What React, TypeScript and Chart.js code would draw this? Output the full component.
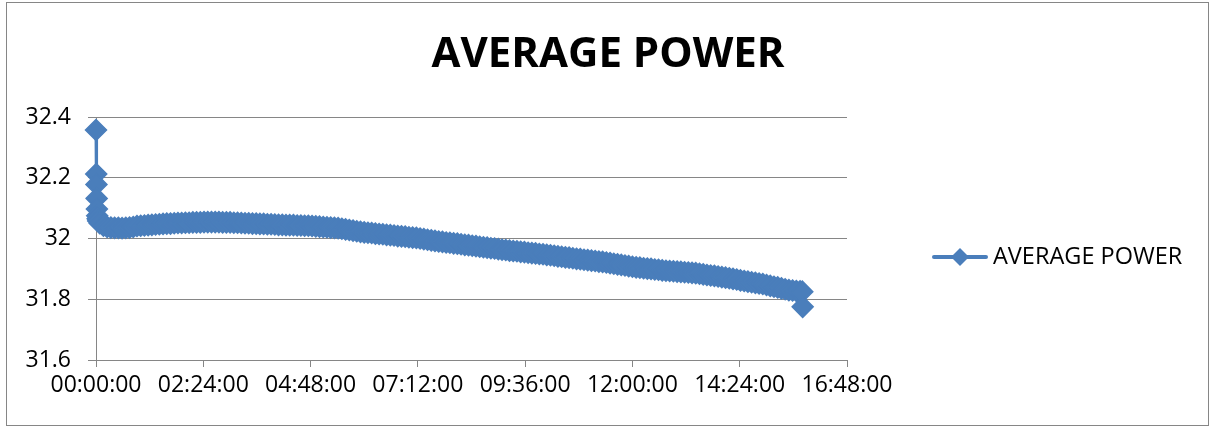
import React, { useEffect, useRef } from "react";
import { Chart, registerables } from "chart.js";

Chart.register(...registerables);

const TITLE = "AVERAGE POWER";
const SERIES_NAME = "AVERAGE POWER";
const SERIES_COLOR = "#4A7EBB";

// elapsed time in minutes
const TIME_MINUTES = [
  0, 0.3, 0.6, 0.9, 1.2, 1.6, 2.2, 3, 5,
  10, 15, 20, 25, 30, 35, 40, 45, 50, 55,
  60, 65, 70, 75, 80, 85, 90, 95, 100, 105,
  110, 115, 120, 125, 130, 135, 140, 145, 150, 155,
  160, 165, 170, 175, 180, 185, 190, 195, 200, 205,
  210, 215, 220, 225, 230, 235, 240, 245, 250, 255,
  260, 265, 270, 275, 280, 285, 290, 295, 300, 305,
  310, 315, 320, 325, 330, 335, 340, 345, 350, 355,
  360, 365, 370, 375, 380, 385, 390, 395, 400, 405,
  410, 415, 420, 425, 430, 435, 440, 445, 450, 455,
  460, 465, 470, 475, 480, 485, 490, 495, 500, 505,
  510, 515, 520, 525, 530, 535, 540, 545, 550, 555,
  560, 565, 570, 575, 580, 585, 590, 595, 600, 605,
  610, 615, 620, 625, 630, 635, 640, 645, 650, 655,
  660, 665, 670, 675, 680, 685, 690, 695, 700, 705,
  710, 715, 720, 725, 730, 735, 740, 745, 750, 755,
  760, 765, 770, 775, 780, 785, 790, 795, 800, 805,
  810, 815, 820, 825, 830, 835, 840, 845, 850, 855,
  860, 865, 870, 875, 880, 885, 890, 895, 900, 905,
  910, 915, 920, 925, 930, 935, 940, 945,
  948, 948.5,
];

const AVERAGE_POWER = [
  32.357, 32.212, 32.178, 32.132, 32.097, 32.075, 32.065, 32.058, 32.05,
  32.042, 32.038, 32.036, 32.035, 32.035, 32.034, 32.035, 32.036, 32.038, 32.041,
  32.042, 32.043, 32.044, 32.045, 32.046, 32.047, 32.048, 32.049, 32.049, 32.05,
  32.051, 32.051, 32.052, 32.052, 32.053, 32.053, 32.053, 32.054, 32.054, 32.054,
  32.054, 32.054, 32.053, 32.053, 32.053, 32.052, 32.052, 32.051, 32.05, 32.05,
  32.049, 32.049, 32.048, 32.048, 32.047, 32.047, 32.046, 32.045, 32.045, 32.044,
  32.044, 32.044, 32.043, 32.043, 32.042, 32.042, 32.041, 32.04, 32.039, 32.038,
  32.037, 32.036, 32.035, 32.034, 32.032, 32.03, 32.028, 32.026, 32.024, 32.022,
  32.02, 32.019, 32.018, 32.016, 32.015, 32.014, 32.012, 32.011, 32.01, 32.008,
  32.007, 32.006, 32.004, 32.003, 32.002, 32.0, 31.998, 31.996, 31.994, 31.992,
  31.99, 31.989, 31.987, 31.986, 31.984, 31.983, 31.981, 31.979, 31.978, 31.976,
  31.975, 31.973, 31.971, 31.97, 31.968, 31.967, 31.965, 31.963, 31.962, 31.96,
  31.959, 31.958, 31.956, 31.955, 31.953, 31.952, 31.951, 31.949, 31.948, 31.946,
  31.945, 31.943, 31.941, 31.94, 31.938, 31.937, 31.935, 31.933, 31.932, 31.93,
  31.929, 31.927, 31.926, 31.924, 31.923, 31.921, 31.919, 31.917, 31.915, 31.913,
  31.911, 31.909, 31.907, 31.905, 31.904, 31.902, 31.901, 31.9, 31.898, 31.897,
  31.895, 31.894, 31.893, 31.892, 31.891, 31.89, 31.889, 31.888, 31.887, 31.886,
  31.884, 31.882, 31.88, 31.878, 31.877, 31.875, 31.873, 31.871, 31.869, 31.867,
  31.865, 31.862, 31.86, 31.858, 31.856, 31.854, 31.852, 31.85, 31.847, 31.844,
  31.841, 31.839, 31.836, 31.833, 31.83, 31.829, 31.827, 31.826,
  31.825, 31.775,
];

const X_TICK_MINUTES = [0, 144, 288, 432, 576, 720, 864, 1008];
const X_TICK_LABELS = [
  "00:00:00", "02:24:00", "04:48:00", "07:12:00",
  "09:36:00", "12:00:00", "14:24:00", "16:48:00",
];
const Y_TICK_VALUES = [31.6, 31.8, 32, 32.2, 32.4];
const Y_TICK_LABELS = ["31.6", "31.8", "32", "32.2", "32.4"];

const GRID_COLOR = "#868686";
const FONT_FAMILY = "'Open Sans', 'Liberation Sans', sans-serif";

const framePlugin = {
  id: "frame",
  beforeDraw(chart: any) {
    const { ctx, width, height } = chart;
    ctx.save();
    ctx.fillStyle = "#ffffff";
    ctx.fillRect(0, 0, width, height);
    ctx.strokeStyle = GRID_COLOR;
    ctx.lineWidth = 1;
    ctx.strokeRect(6.5, 2.5, 1202, 423);
    ctx.restore();
  },
};

const lineLegendPlugin = {
  id: "lineLegend",
  afterDraw(chart: any) {
    const ctx = chart.ctx;
    const y = 257;
    const cx = 960;
    ctx.save();
    ctx.strokeStyle = SERIES_COLOR;
    ctx.lineWidth = 4;
    ctx.lineCap = "round";
    ctx.beginPath();
    ctx.moveTo(934, y);
    ctx.lineTo(986, y);
    ctx.stroke();
    ctx.fillStyle = SERIES_COLOR;
    ctx.beginPath();
    ctx.moveTo(cx, y - 9);
    ctx.lineTo(cx + 9, y);
    ctx.lineTo(cx, y + 9);
    ctx.lineTo(cx - 9, y);
    ctx.closePath();
    ctx.fill();
    ctx.fillStyle = "#000000";
    ctx.font = `23.5px ${FONT_FAMILY}`;
    ctx.textBaseline = "middle";
    ctx.textAlign = "left";
    ctx.fillText(SERIES_NAME, 993, y);
    ctx.restore();
  },
};

export default function App() {
  const canvasRef = useRef<HTMLCanvasElement | null>(null);

  useEffect(() => {
    const canvas = canvasRef.current;
    if (!canvas) return;
    const points = TIME_MINUTES.map((t, i) => ({ x: t, y: AVERAGE_POWER[i] }));
    const chart = new Chart(canvas, {
      type: "line",
      data: {
        datasets: [
          {
            label: SERIES_NAME,
            data: points,
            borderColor: SERIES_COLOR,
            backgroundColor: SERIES_COLOR,
            borderWidth: 3,
            pointStyle: "rectRot",
            pointRadius: 10.5,
            pointBorderWidth: 1.5,
            pointBackgroundColor: SERIES_COLOR,
            pointBorderColor: SERIES_COLOR,
            tension: 0,
            clip: false,
          } as any,
        ],
      },
      options: {
        animation: false,
        responsive: true,
        maintainAspectRatio: false,
        layout: { padding: 0 },
        plugins: {
          legend: { display: false },
          tooltip: { enabled: false },
          title: {
            display: true,
            text: TITLE,
            color: "#000000",
            font: { family: FONT_FAMILY, size: 42, weight: "bold", lineHeight: 1.2 },
            padding: { top: 30, bottom: 36.6 },
          },
        },
        scales: {
          x: {
            type: "linear",
            min: 0,
            max: 1008,
            afterBuildTicks: (scale: any) => {
              scale.ticks = X_TICK_MINUTES.map((v) => ({ value: v }));
            },
            afterFit: (scale: any) => {
              scale.height = 68;
            },
            grid: {
              drawOnChartArea: false,
              drawTicks: true,
              tickLength: 7,
              color: GRID_COLOR,
            },
            border: { display: true, color: GRID_COLOR, width: 1 },
            ticks: {
              autoSkip: false,
              maxRotation: 0,
              padding: 5,
              color: "#000000",
              font: { family: FONT_FAMILY, size: 23 },
              callback: (value: any) => {
                const i = X_TICK_MINUTES.indexOf(Number(value));
                return i >= 0 ? X_TICK_LABELS[i] : "";
              },
            },
          },
          y: {
            type: "linear",
            min: 31.6,
            max: 32.4,
            afterBuildTicks: (scale: any) => {
              scale.ticks = Y_TICK_VALUES.map((v) => ({ value: v }));
            },
            afterFit: (scale: any) => {
              scale.width = 96;
            },
            grid: {
              drawOnChartArea: true,
              drawTicks: true,
              tickLength: 8,
              color: GRID_COLOR,
            },
            border: { display: true, color: GRID_COLOR, width: 1 },
            ticks: {
              padding: 17,
              color: "#000000",
              font: { family: FONT_FAMILY, size: 23 },
              callback: (value: any) => {
                const i = Y_TICK_VALUES.findIndex((v) => Math.abs(v - Number(value)) < 1e-6);
                return i >= 0 ? Y_TICK_LABELS[i] : "";
              },
            },
          },
          legendSpace: {
            type: "linear",
            position: "right",
            display: true,
            afterFit: (scale: any) => {
              scale.width = 369;
            },
            grid: { display: false },
            border: { display: false },
            ticks: { display: false },
          },
        },
      },
      plugins: [framePlugin, lineLegendPlugin],
    });
    return () => chart.destroy();
  }, []);

  return (
    <div
      style={{
        position: "fixed",
        left: 0,
        top: 0,
        width: 1216,
        height: 428,
        background: "#ffffff",
      }}
    >
      <canvas ref={canvasRef} />
    </div>
  );
}
